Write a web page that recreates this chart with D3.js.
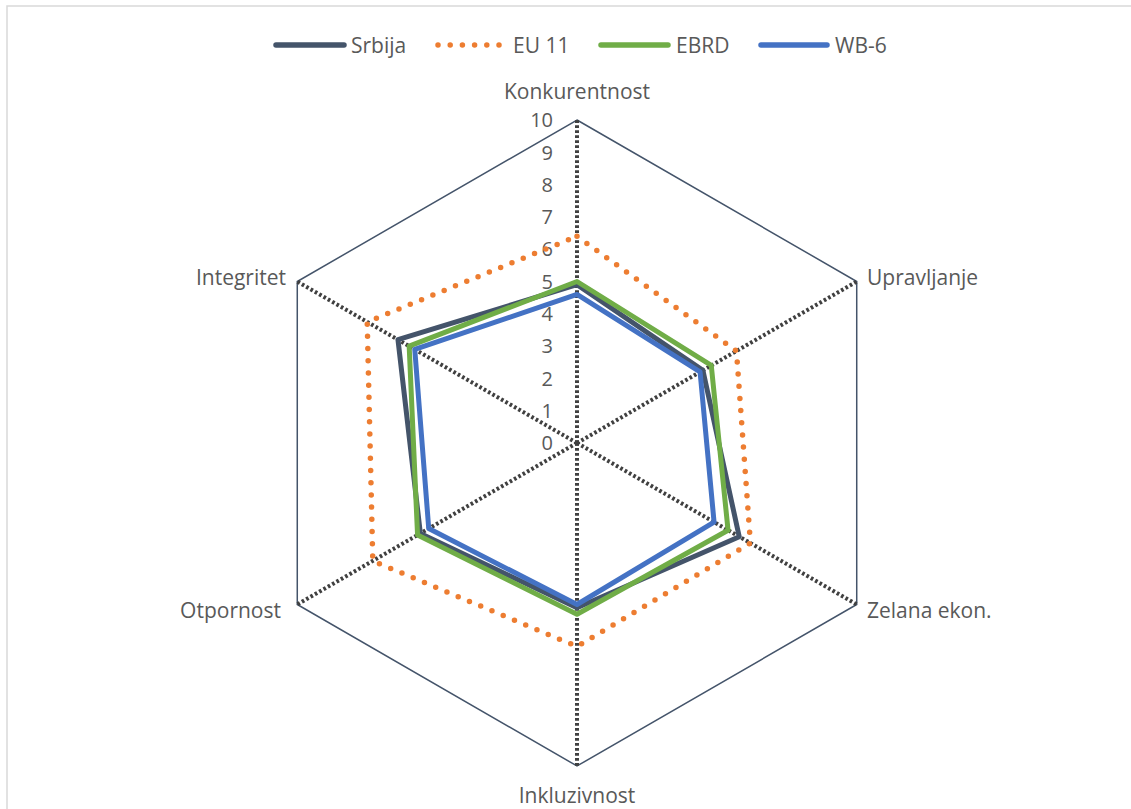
<!DOCTYPE html>
<html>
<head>
<meta charset="utf-8">
<script src="https://cdn.jsdelivr.net/npm/d3@7/dist/d3.min.js"></script>
<style>
  html, body { margin: 0; padding: 0; background: #fff; }
  svg { display: block; }
  text { font-family: "Open Sans", Lato, "Liberation Sans", sans-serif; fill: #595959; }
</style>
</head>
<body>
<svg id="chart" width="1131" height="809"></svg>
<script>
// Pillars of the transition index, clockwise from the top
const categories = ["Konkurentnost", "Upravljanje", "Zelana ekon.", "Inkluzivnost", "Otpornost", "Integritet"];

// Scores per economy group (0–10)
const srbija = [4.9, 4.5, 5.8, 5.1, 5.6, 6.4];
const eu11   = [6.4, 5.7, 6.2, 6.3, 7.3, 7.5];
const ebrd   = [5.0, 4.8, 5.4, 5.3, 5.7, 6.0];
const wb6    = [4.6, 4.4, 4.9, 5.0, 5.3, 5.8];

const tickValues = [0, 1, 2, 3, 4, 5, 6, 7, 8, 9, 10];

const series = [
  { name: "Srbija", values: srbija, color: "#44546a", dash: null },
  { name: "EU 11",  values: eu11,   color: "#ed7d31", dash: "0,12.2" },
  { name: "EBRD",   values: ebrd,   color: "#70ad47", dash: null },
  { name: "WB-6",   values: wb6,    color: "#4472c4", dash: null }
];

const svg = d3.select("#chart");

// outer frame
svg.append("rect")
  .attr("x", 7).attr("y", 6)
  .attr("width", 1140).attr("height", 820)
  .attr("fill", "none").attr("stroke", "#d9d9d9").attr("stroke-width", 1.5);

const cx = 577, cy = 443, R = 323;
const r = d3.scaleLinear().domain([0, 10]).range([0, R]);
const angle = d3.scalePoint().domain(categories).range([0, 2 * Math.PI * (categories.length - 1) / categories.length]);

const pt = (cat, v) => {
  const a = angle(cat);
  return [cx + r(v) * Math.sin(a), cy - r(v) * Math.cos(a)];
};

const g = svg.append("g");

// outer hexagon at the maximum value
g.append("path")
  .attr("d", d3.line()(categories.map(c => pt(c, 10))) + "Z")
  .attr("fill", "none").attr("stroke", "#44546a").attr("stroke-width", 1.5);

// spokes
g.selectAll("line.spoke").data(categories).join("line")
  .attr("class", "spoke")
  .attr("x1", cx).attr("y1", cy)
  .attr("x2", c => pt(c, 10)[0]).attr("y2", c => pt(c, 10)[1])
  .attr("stroke", "#404040").attr("stroke-width", 4)
  .attr("stroke-dasharray", "2.7,2.3");

// radial tick labels along the top spoke
g.selectAll("text.tick").data(tickValues).join("text")
  .attr("class", "tick")
  .attr("x", cx - 24)
  .attr("y", d => cy - r(d))
  .attr("dy", "0.36em")
  .attr("text-anchor", "end")
  .attr("font-size", 20)
  .text(d => d);

// series polygons
const line = d3.line().curve(d3.curveLinearClosed);
series.forEach(s => {
  const p = g.append("path")
    .attr("d", line(categories.map((c, i) => pt(c, s.values[i]))))
    .attr("fill", "none")
    .attr("stroke", s.color)
    .attr("stroke-width", s.dash ? 5.5 : 5)
    .attr("stroke-linejoin", "round");
  if (s.dash) p.attr("stroke-dasharray", s.dash).attr("stroke-linecap", "round");
});

// category labels
const labelPos = {
  "Konkurentnost": { x: cx, y: 91, anchor: "middle" },
  "Upravljanje":   { x: 867, y: 277, anchor: "start" },
  "Zelana ekon.":  { x: 867, y: 610, anchor: "start" },
  "Inkluzivnost":  { x: cx, y: 795, anchor: "middle" },
  "Otpornost":     { x: 281, y: 610, anchor: "end" },
  "Integritet":    { x: 286, y: 277, anchor: "end" }
};
g.selectAll("text.cat").data(categories).join("text")
  .attr("class", "cat")
  .attr("x", c => labelPos[c].x)
  .attr("y", c => labelPos[c].y)
  .attr("dy", "0.36em")
  .attr("text-anchor", c => labelPos[c].anchor)
  .attr("font-size", 21)
  .text(c => c);

// legend
const legendItems = [
  { x0: 276, x1: 344, tx: 351 },
  { x0: 438, x1: 500, tx: 513 },
  { x0: 601, x1: 668, tx: 676 },
  { x0: 761, x1: 827, tx: 835 }
];
const legend = svg.append("g");
series.forEach((s, i) => {
  const it = legendItems[i];
  const ln = legend.append("line")
    .attr("x1", it.x0).attr("x2", it.x1)
    .attr("y1", 45).attr("y2", 45)
    .attr("stroke", s.color).attr("stroke-width", 5.5)
    .attr("stroke-linecap", "round");
  if (s.dash) ln.attr("stroke-dasharray", s.dash);
  legend.append("text")
    .attr("x", it.tx)
    .attr("y", 45).attr("dy", "0.36em")
    .attr("font-size", 21)
    .text(s.name);
});
</script>
</body>
</html>
